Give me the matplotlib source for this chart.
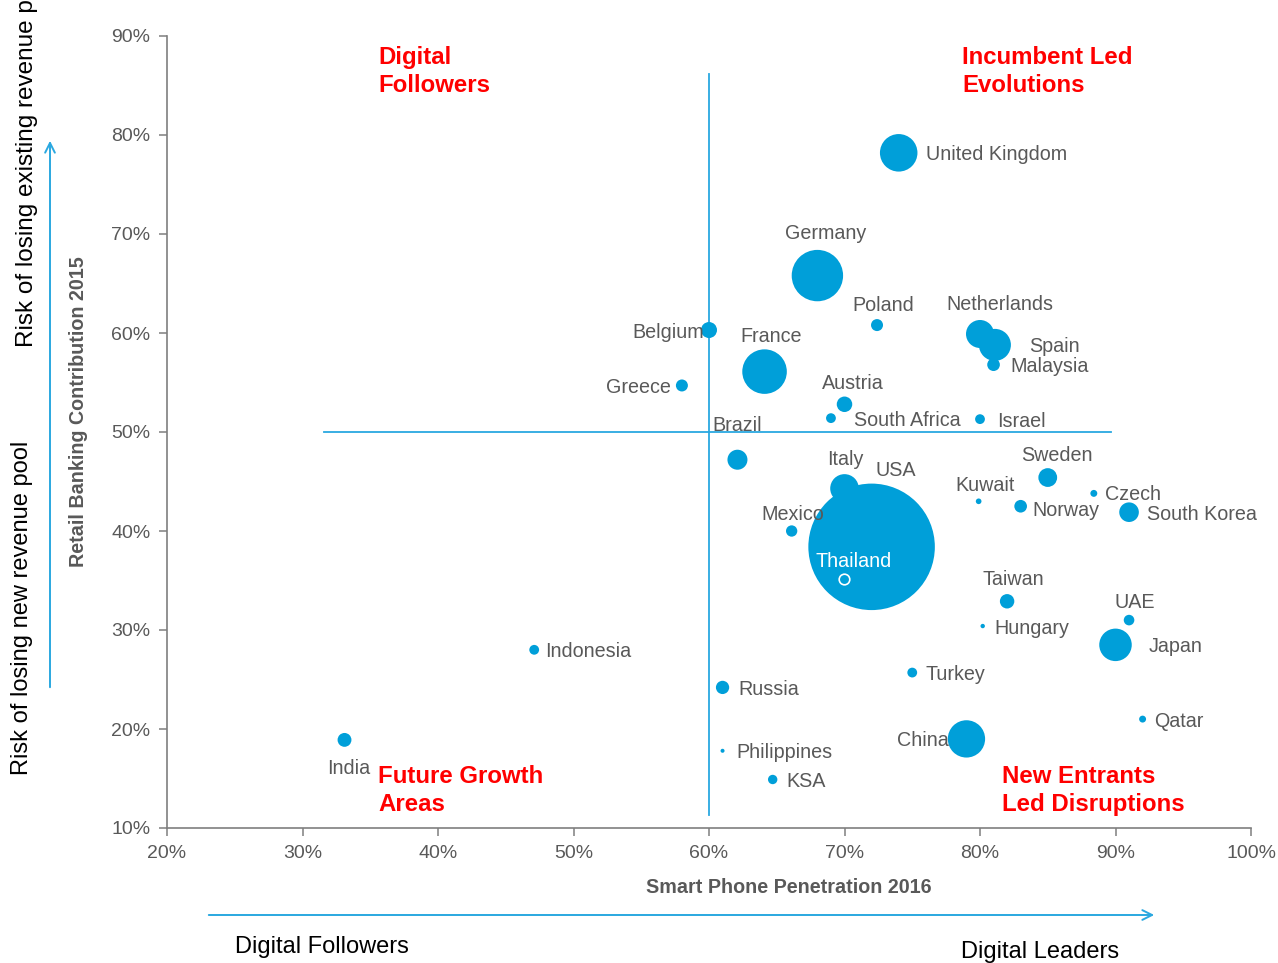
import matplotlib
matplotlib.use("Agg")
import matplotlib.pyplot as plt
from matplotlib import font_manager
from matplotlib.ticker import FuncFormatter, MultipleLocator

# data
countries = ["United Kingdom", "Germany", "Poland", "Netherlands", "Spain", "Malaysia",
             "Belgium", "France", "Greece", "Austria", "South Africa", "Israel",
             "Brazil", "Italy", "USA", "Mexico", "Kuwait", "Sweden", "Norway", "Czech",
             "South Korea", "Taiwan", "Hungary", "UAE", "Japan", "Qatar", "Turkey",
             "China", "Indonesia", "Russia", "Philippines", "KSA", "India"]
smartphone = [74.0, 68.0, 72.4, 80.0, 81.1, 81.0,
              60.0, 64.1, 58.0, 70.0, 69.0, 80.0,
              62.1, 70.0, 72.0, 66.1, 79.9, 85.0, 83.0, 88.4,
              91.0, 82.0, 80.2, 91.0, 90.0, 92.0, 75.0,
              79.0, 47.1, 61.0, 61.0, 64.7, 33.1]
retail = [78.2, 65.8, 60.8, 59.9, 58.8, 56.8,
          60.3, 56.1, 54.7, 52.8, 51.4, 51.3,
          47.2, 44.3, 38.4, 40.0, 43.0, 45.4, 42.5, 43.8,
          41.9, 32.9, 30.4, 31.0, 28.5, 21.0, 25.7,
          19.0, 28.0, 24.2, 17.8, 14.9, 18.9]
pool = [88, 165, 9, 49, 64, 10,
        16, 124, 9, 15, 6, 6,
        25, 51, 1000, 8, 2, 22, 10, 3,
        24, 13, 1.2, 7, 66, 3, 6,
        87, 6, 11, 1, 5.5, 12]

# Thailand is shown as an empty marker
thai_x, thai_y = 70.0, 35.1

# label placement: (dx px, dy px, ha)
label_pos = {
    "United Kingdom": (27, 0, "left"), "Germany": (8, 44, "center"),
    "Poland": (6, 22, "center"), "Netherlands": (20, 31, "center"),
    "Spain": (34, 0, "left"), "Malaysia": (17, 0, "left"),
    "Belgium": (-5, 0, "right"), "France": (7, 37, "center"),
    "Greece": (-11, 0, "right"), "Austria": (8, 23, "center"),
    "South Africa": (23, 0, "left"), "Israel": (17, 0, "left"),
    "Brazil": (0, 36, "center"), "Italy": (1, 31, "center"),
    "USA": (24, 78, "center"), "Mexico": (1, 18, "center"),
    "Kuwait": (6, 18, "center"), "Sweden": (9, 24, "center"),
    "Norway": (12, -2, "left"), "Czech": (11, 1, "left"),
    "South Korea": (18, 0, "left"), "Taiwan": (6, 24, "center"),
    "Hungary": (12, 0, "left"), "UAE": (6, 20, "center"),
    "Japan": (33, 0, "left"), "Qatar": (12, 0, "left"),
    "Turkey": (13, 0, "left"), "China": (-18, 0, "right"),
    "Indonesia": (11, 0, "left"), "Russia": (16, 0, "left"),
    "Philippines": (14, 0, "left"), "KSA": (14, 0, "left"),
    "India": (4, -27, "center"),
}

blue = "#009FD9"
line_blue = "#2AA8E0"
grey_txt = "#595959"

names = {f.name for f in font_manager.fontManager.ttflist}
base = "Liberation Sans" if "Liberation Sans" in names else "DejaVu Sans"
plt.rcParams["font.family"] = base

fig = plt.figure(figsize=(12.78, 9.63), dpi=100)
ax = fig.add_axes([167 / 1278, 1 - 828 / 963, 1084 / 1278, 792 / 963])
ax.set_xlim(20, 100)
ax.set_ylim(10, 90)

# quadrant lines
ax.plot([60, 60], [11.3, 86.2], color=line_blue, lw=1.3, zorder=1)
ax.plot([31.6, 89.7], [50, 50], color=line_blue, lw=1.3, zorder=1)

px2pt = 0.72
ax.scatter(smartphone, retail, s=[p * 4 * (2 * px2pt) ** 2 for p in pool],
           color=blue, edgecolors="none", zorder=3)
ax.scatter([thai_x], [thai_y], s=(2 * 5.3 * px2pt) ** 2, facecolors="none",
           edgecolors="white", linewidths=1.2, zorder=4)

for name, x, y in zip(countries, smartphone, retail):
    dx, dy, ha = label_pos[name]
    ax.annotate(name, (x, y), xytext=(dx * px2pt, (dy - 2) * px2pt),
                textcoords="offset points", ha=ha, va="center", fontsize=14.2,
                color=grey_txt, zorder=5)
ax.annotate("Thailand", (thai_x, thai_y), xytext=(9 * px2pt, 18 * px2pt),
            textcoords="offset points", ha="center", va="center",
            fontsize=14.2, color="white", zorder=5)

# quadrant titles
quad_kw = dict(color="red", fontsize=17.3, fontweight="bold", va="top", ha="left",
               linespacing=1.27, zorder=5)
ax.text(35.6, 89.0, "Digital\nFollowers", **quad_kw)
ax.text(78.7, 89.0, "Incumbent Led\nEvolutions", **quad_kw)
ax.text(35.6, 16.4, "Future Growth\nAreas", **quad_kw)
ax.text(81.6, 16.4, "New Entrants\nLed Disruptions", **quad_kw)

# axes styling
for side in ["top", "right"]:
    ax.spines[side].set_visible(False)
for side in ["left", "bottom"]:
    ax.spines[side].set_color("#7F7F7F")
    ax.spines[side].set_linewidth(1.2)
ax.xaxis.set_major_locator(MultipleLocator(10))
ax.yaxis.set_major_locator(MultipleLocator(10))
pct = FuncFormatter(lambda v, _: f"{v:.0f}%")
ax.xaxis.set_major_formatter(pct)
ax.yaxis.set_major_formatter(pct)
ax.tick_params(direction="out", length=6, width=1.1, color="#7F7F7F",
               labelcolor=grey_txt, labelsize=14)
ax.tick_params(axis="x", pad=6)
ax.tick_params(axis="y", pad=6)

ax.set_xlabel("Smart Phone Penetration 2016", fontsize=14.2, fontweight="bold",
              color=grey_txt)
ax.xaxis.set_label_coords(0.574, -0.063)
ax.set_ylabel("Retail Banking Contribution 2015", fontsize=14.2, fontweight="bold",
              color=grey_txt)
ax.yaxis.set_label_coords(-0.073, 0.526)

# outer arrows and captions
arrow_kw = dict(arrowstyle="->,head_length=0.7,head_width=0.35", color=line_blue, lw=1.4)
ax.annotate("", xy=(50 / 1278, 1 - 138 / 963), xytext=(50 / 1278, 1 - 690 / 963),
            xycoords="figure fraction", textcoords="figure fraction", arrowprops=arrow_kw)
ax.annotate("", xy=(1157 / 1278, 1 - 915 / 963), xytext=(206 / 1278, 1 - 915 / 963),
            xycoords="figure fraction", textcoords="figure fraction", arrowprops=arrow_kw)

fig.text(22 / 1278, 1 - 775 / 963, "Risk of losing new revenue pool", rotation=90,
         ha="center", va="bottom", fontsize=17, color="black")
fig.text(27 / 1278, 1 - 347 / 963, "Risk of losing existing revenue pool", rotation=90,
         ha="center", va="bottom", fontsize=17.5, color="black")
fig.text(235 / 1278, 1 - 947 / 963, "Digital Followers", ha="left", va="center",
         fontsize=17, color="black")
fig.text(961 / 1278, 1 - 952 / 963, "Digital Leaders", ha="left", va="center",
         fontsize=17, color="black")

fig.savefig("out.png", dpi=100)
